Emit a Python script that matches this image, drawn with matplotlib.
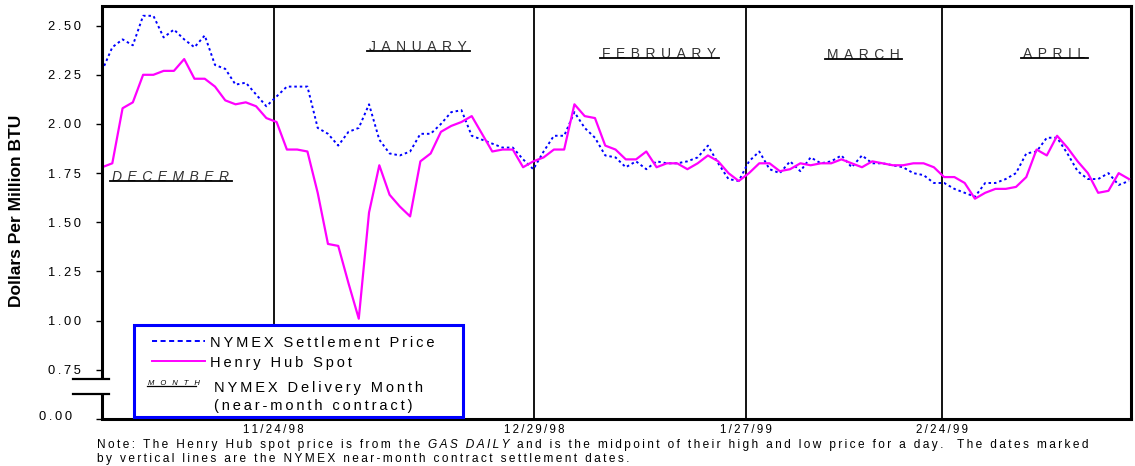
import numpy as np
import matplotlib.pyplot as plt
from matplotlib.patches import Rectangle

plt.rcParams['font.family'] = ['Liberation Sans', 'DejaVu Sans']

# daily prices, $ per million BTU
henry_hub = [1.78, 1.80, 2.08, 2.11, 2.25, 2.25, 2.27, 2.27, 2.33, 2.23,
             2.23, 2.19, 2.12, 2.10, 2.11, 2.09, 2.03, 2.01, 1.87, 1.87,
             1.86, 1.65, 1.39, 1.38, 1.19, 1.01, 1.55, 1.79, 1.64, 1.58,
             1.53, 1.81, 1.85, 1.96, 1.99, 2.01, 2.04, 1.95, 1.86, 1.87,
             1.87, 1.78, 1.81, 1.83, 1.87, 1.87, 2.10, 2.04, 2.03, 1.89,
             1.87, 1.82, 1.82, 1.86, 1.78, 1.80, 1.80, 1.77, 1.80, 1.84,
             1.81, 1.75, 1.71, 1.75, 1.80, 1.80, 1.76, 1.77, 1.80, 1.79,
             1.80, 1.80, 1.82, 1.80, 1.78, 1.81, 1.80, 1.79, 1.79, 1.80,
             1.80, 1.78, 1.73, 1.73, 1.70, 1.62, 1.65, 1.67, 1.67, 1.68,
             1.73, 1.87, 1.84, 1.94, 1.88, 1.81, 1.75, 1.65, 1.66, 1.75,
             1.72]
nymex = [2.27, 2.39, 2.43, 2.40, 2.55, 2.55, 2.44, 2.48, 2.43, 2.39,
         2.45, 2.30, 2.28, 2.20, 2.21, 2.15, 2.09, 2.14, 2.19, 2.19,
         2.19, 1.98, 1.95, 1.89, 1.96, 1.98, 2.10, 1.92, 1.85, 1.84,
         1.86, 1.95, 1.95, 2.00, 2.06, 2.07, 1.94, 1.92, 1.90, 1.88,
         1.88, 1.82, 1.77, 1.86, 1.94, 1.94, 2.06, 1.98, 1.93, 1.84,
         1.83, 1.78, 1.81, 1.77, 1.81, 1.80, 1.80, 1.81, 1.83, 1.89,
         1.80, 1.72, 1.71, 1.81, 1.86, 1.77, 1.75, 1.81, 1.76, 1.83,
         1.80, 1.81, 1.84, 1.78, 1.84, 1.80, 1.80, 1.79, 1.78, 1.75,
         1.74, 1.70, 1.70, 1.67, 1.65, 1.63, 1.70, 1.70, 1.72, 1.75,
         1.85, 1.86, 1.93, 1.93, 1.85, 1.76, 1.72, 1.72, 1.75, 1.69,
         1.71]

# NYMEX settlement dates (vertical lines), position in trading-day index
settle_pos = [16.7, 42.1, 62.7, 81.8]
settle_dates = ["11/24/98", "12/29/98", "1/27/99", "2/24/99"]

# delivery month labels
month_names = ["DECEMBER", "JANUARY", "FEBRUARY", "MARCH", "APRIL"]
month_x = [6.7, 30.8, 54.2, 74.1, 92.7]
month_y = [1.71, 2.37, 2.335, 2.33, 2.335]

yticks = [0.75, 1.00, 1.25, 1.50, 1.75, 2.00, 2.25, 2.50]

BLUE = "#0000FF"
PINK = "#FF00FF"


def track(s, n=1):
    # wide letter spacing like the original
    return ("\u2009" * n).join(s)


x = np.arange(len(henry_hub))

fig = plt.figure(figsize=(11.35, 4.66), dpi=100)
ax = fig.add_axes([0.0899, 0.1009, 0.9066, 0.8863])

ax.plot(x, nymex, color=BLUE, lw=1.4, ls=(0, (1.3, 1.5)), zorder=3)
ax.plot(x, henry_hub, color=PINK, lw=1.6, zorder=4)

for p in settle_pos:
    ax.axvline(p, color="black", lw=1.3, zorder=2)

ax.set_xlim(0, 100.2)
ax.set_ylim(0.5, 2.6)

ax.set_xticks(settle_pos)
ax.set_xticklabels([track(d) for d in settle_dates], fontsize=8.3)
ax.tick_params(axis="x", length=0, pad=3.5)

ax.set_yticks([0.5] + yticks)
ax.set_yticklabels([""] + [track(f"{v:.2f}") for v in yticks], fontsize=9.3)
ax.tick_params(axis="y", direction="out", length=4, width=1, pad=11)
ax.text(-0.029, 0.51, track("0.00"), transform=ax.get_yaxis_transform(),
        ha="right", va="center", fontsize=9.3)

ax.set_ylabel("Dollars Per Million BTU", fontsize=12.5, fontweight="bold")
ax.yaxis.set_label_coords(-0.076, 0.505)

# thick frame with a broken left axis
for side in ["top", "right", "bottom"]:
    ax.spines[side].set_linewidth(2.2)
ax.spines["left"].set_visible(False)
lo, hi = 0.0593, 0.0956
ax.plot([0, 0], [0, lo], transform=ax.transAxes, color="black", lw=2.2,
        clip_on=False, solid_capstyle="butt", zorder=6)
ax.plot([0, 0], [hi, 1], transform=ax.transAxes, color="black", lw=2.2,
        clip_on=False, solid_capstyle="butt", zorder=6)
for yb in [lo, hi]:
    ax.plot([-0.0282, 0.0068], [yb, yb], transform=ax.transAxes,
            color="black", lw=1.6, clip_on=False, zorder=6)

# month labels with a rule under them
renderer = fig.canvas.get_renderer()
inv = ax.transData.inverted()
for i, (name, mx, my) in enumerate(zip(month_names, month_x, month_y)):
    t = ax.text(mx, my, track(name, 2), ha="center", va="baseline",
                fontsize=10, color="#333333",
                style="italic" if i == 0 else "normal")
    bb = t.get_window_extent(renderer)
    x0 = inv.transform((bb.x0 - 2, 0))[0]
    x1 = inv.transform((bb.x1 + 3, 0))[0]
    ax.plot([x0, x1], [my, my], color="black", lw=1.3, zorder=3)

# legend box
ax.add_patch(Rectangle((0.0311, 0.006), 0.3194, 0.2216, transform=ax.transAxes,
                       facecolor="white", edgecolor=BLUE, lw=2.2, zorder=7))
ax.plot([0.0486, 0.1001], [0.1889, 0.1889], transform=ax.transAxes,
        color=BLUE, lw=1.4, ls=(0, (2.6, 1.8)), zorder=8)
ax.plot([0.0486, 0.1001], [0.1412, 0.1412], transform=ax.transAxes,
        color=PINK, lw=1.4, zorder=8)
ax.text(0.105, 0.1833, track("NYMEX Settlement Price"), transform=ax.transAxes,
        ha="left", va="center", fontsize=10.5, zorder=8)
ax.text(0.105, 0.1349, track("Henry Hub Spot"), transform=ax.transAxes,
        ha="left", va="center", fontsize=10.5, zorder=8)
ax.text(0.0444, 0.0815, track("MONTH", 4), transform=ax.transAxes,
        ha="left", va="baseline", fontsize=5.5, style="italic", zorder=8)
ax.plot([0.0435, 0.0911], [0.0799, 0.0799], transform=ax.transAxes,
        color="black", lw=0.9, zorder=8)
ax.text(0.1091, 0.0758, track("NYMEX Delivery Month"), transform=ax.transAxes,
        ha="left", va="center", fontsize=10.5, zorder=8)
ax.text(0.1091, 0.0322, track("(near-month contract)"), transform=ax.transAxes,
        ha="left", va="center", fontsize=10.5, zorder=8)

# note under the chart, GAS DAILY in italics
pieces = [("Note: The Henry Hub spot price is from the", "normal"),
          ("GAS DAILY", "italic"),
          ("and is the midpoint of their high and low price for a day.  The dates marked",
           "normal")]
nx = 0.0852
for s, st in pieces:
    t = fig.text(nx, 0.0395, track(s), fontsize=8.6, style=st, va="baseline")
    bb = t.get_window_extent(renderer)
    nx = fig.transFigure.inverted().transform((bb.x1 + 8, 0))[0]
fig.text(0.0852, 0.0085,
         track("by vertical lines are the NYMEX near-month contract settlement dates."),
         fontsize=8.6, va="baseline")

fig.savefig("out.png", dpi=100)
